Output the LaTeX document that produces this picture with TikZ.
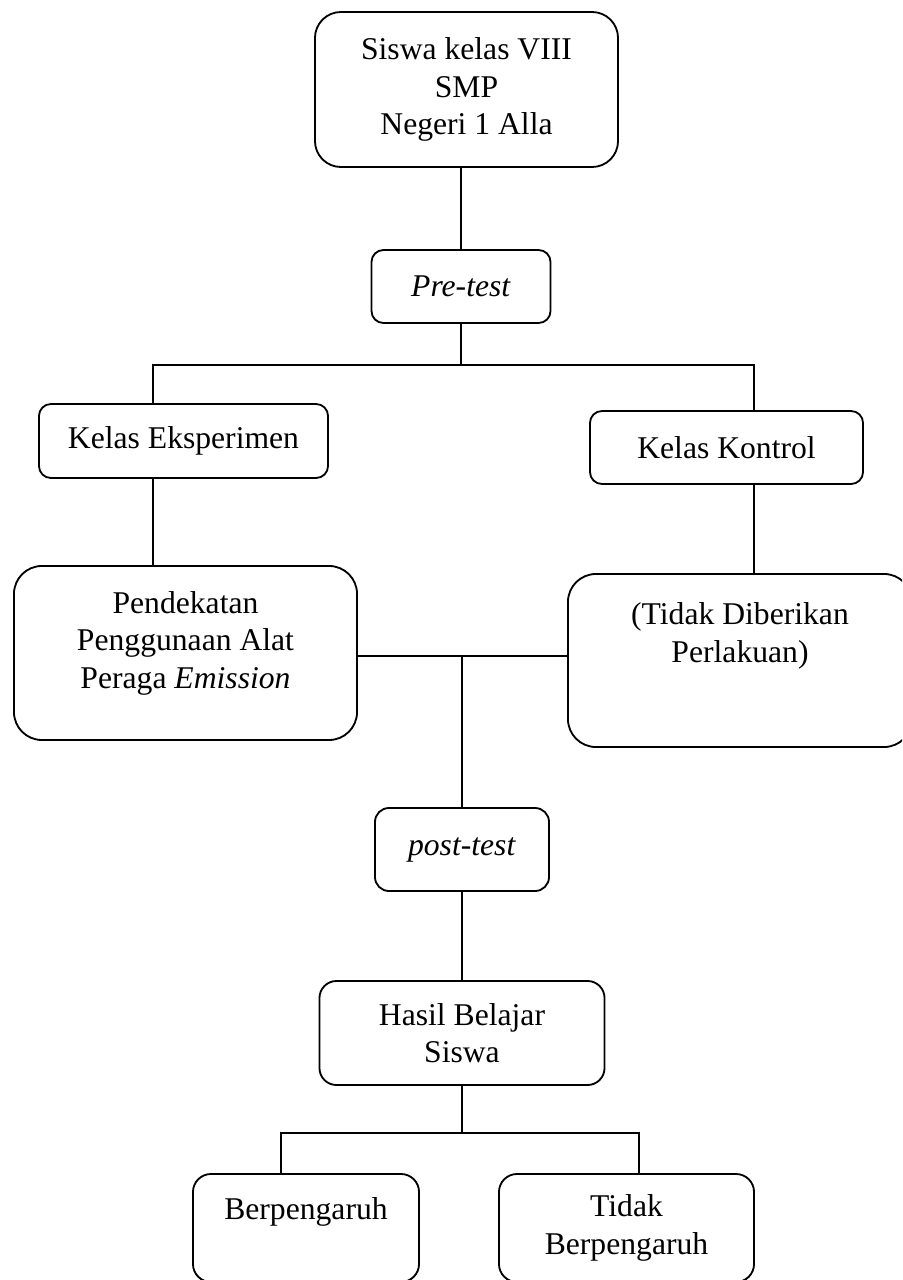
\documentclass[tikz,border=0pt]{standalone}
\usepackage{fontspec}
\setmainfont{Liberation Serif}
\usetikzlibrary{positioning}

\begin{document}
\begin{tikzpicture}[x=0.025cm,y=-0.025cm,
  box/.style={draw,rounded corners=3mm,align=center,inner sep=0pt,line width=1.3pt,
    font=\fontsize{22.5pt}{26.5pt}\selectfont},
  bigbox/.style={box,rounded corners=7mm},
  link/.style={line width=1.05pt}]
\useasboundingbox (0,0) rectangle (902,1280);
\clip (0,0) rectangle (902,1280);
% boxes
\node[box,rounded corners=6.5mm,minimum width=7.575cm,minimum height=3.875cm] (siswa) at (466.5,89.5) {Siswa kelas VIII\\ SMP\\ Negeri 1 Alla};
\node[box,minimum width=4.475cm,minimum height=1.825cm] (pre) at (461,286.5) {\textit{Pre-test}};
\node[box,minimum width=7.225cm,minimum height=1.85cm] (eks) at (183.5,441) {Kelas Eksperimen};
\node[box,minimum width=6.825cm,minimum height=1.825cm] (kon) at (726.5,447.5) {Kelas Kontrol};
\node[bigbox,anchor=base,minimum width=8.575cm,text height=3.05cm,text depth=1.3cm] (alat) at (185.5,688) {Pendekatan\\ Penggunaan Alat\\ Peraga \textit{Emission}};
\node[bigbox,anchor=base,minimum width=8.6cm,text height=2.2cm,text depth=2.125cm] (tanpa) at (740,662) {(Tidak Diberikan\\ Perlakuan)};
\node[box,rounded corners=3.5mm,minimum width=4.35cm,minimum height=2.075cm] (post) at (462,849.5) {\textit{post-test}};
\node[box,rounded corners=4.25mm,minimum width=7.125cm,minimum height=2.6cm] (hasil) at (462,1033) {Hasil Belajar\\ Siswa};
\node[box,rounded corners=4.5mm,anchor=base,minimum width=5.65cm,text height=1.125cm,text depth=1.575cm] (ya) at (306,1219) {Berpengaruh};
\node[box,rounded corners=4.5mm,minimum width=6.375cm,minimum height=2.7cm] (tidak) at (626.5,1228) {Tidak\\ Berpengaruh};
% branch points
\coordinate (bagiL) at (153,365);
\coordinate (bagiR) at (754,365);
\coordinate (gabung) at (462,656);
\coordinate (hasilL) at (281,1133);
\coordinate (hasilR) at (639,1133);
% connectors
\draw[link] (pre.north) -- (pre.north |- siswa.south);
\draw[link] (pre.south) -- (pre.south |- bagiL);
\draw[link] (eks.north -| bagiL) -- (bagiL) -- (bagiR) -- (bagiR |- kon.north);
\draw[link] (eks.south -| bagiL) -- (bagiL |- alat.north);
\draw[link] (kon.south -| bagiR) -- (bagiR |- tanpa.north);
\draw[link] (alat.east |- gabung) -- (tanpa.west |- gabung);
\draw[link] (gabung) -- (post.north -| gabung);
\draw[link] (post.south) -- (hasil.north);
\draw[link] (hasil.south) -- (hasil.south |- hasilL);
\draw[link] (ya.north -| hasilL) -- (hasilL) -- (hasilR) -- (hasilR |- tidak.north);
\end{tikzpicture}
\end{document}
